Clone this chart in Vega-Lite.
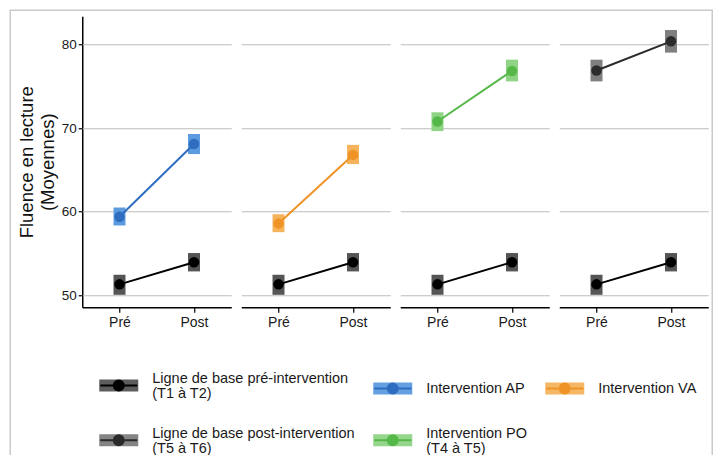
{
  "$schema": "https://vega.github.io/schema/vega-lite/v6.json",
  "background": "white",
  "padding": {"left": 10.25, "top": 10.25, "right": 5, "bottom": 5},
  "data": {
    "values": [
      {"panel": 1, "series": "Ligne de base pré-intervention (T1 à T2)", "time": "Pré", "mean": 51.3, "lo": 50.05, "hi": 52.45},
      {"panel": 1, "series": "Ligne de base pré-intervention (T1 à T2)", "time": "Post", "mean": 53.95, "lo": 52.85, "hi": 55.05},
      {"panel": 1, "series": "Intervention AP", "time": "Pré", "mean": 59.4, "lo": 58.35, "hi": 60.5},
      {"panel": 1, "series": "Intervention AP", "time": "Post", "mean": 68.1, "lo": 66.9, "hi": 69.3},
      {"panel": 2, "series": "Ligne de base pré-intervention (T1 à T2)", "time": "Pré", "mean": 51.3, "lo": 50.05, "hi": 52.45},
      {"panel": 2, "series": "Ligne de base pré-intervention (T1 à T2)", "time": "Post", "mean": 53.95, "lo": 52.85, "hi": 55.05},
      {"panel": 2, "series": "Intervention VA", "time": "Pré", "mean": 58.6, "lo": 57.55, "hi": 59.7},
      {"panel": 2, "series": "Intervention VA", "time": "Post", "mean": 66.8, "lo": 65.7, "hi": 68.0},
      {"panel": 3, "series": "Ligne de base pré-intervention (T1 à T2)", "time": "Pré", "mean": 51.3, "lo": 50.05, "hi": 52.45},
      {"panel": 3, "series": "Ligne de base pré-intervention (T1 à T2)", "time": "Post", "mean": 53.95, "lo": 52.85, "hi": 55.05},
      {"panel": 3, "series": "Intervention PO (T4 à T5)", "time": "Pré", "mean": 70.8, "lo": 69.65, "hi": 71.9},
      {"panel": 3, "series": "Intervention PO (T4 à T5)", "time": "Post", "mean": 76.85, "lo": 75.6, "hi": 78.2},
      {"panel": 4, "series": "Ligne de base pré-intervention (T1 à T2)", "time": "Pré", "mean": 51.3, "lo": 50.05, "hi": 52.45},
      {"panel": 4, "series": "Ligne de base pré-intervention (T1 à T2)", "time": "Post", "mean": 53.95, "lo": 52.85, "hi": 55.05},
      {"panel": 4, "series": "Ligne de base post-intervention (T5 à T6)", "time": "Pré", "mean": 76.9, "lo": 75.6, "hi": 78.2},
      {"panel": 4, "series": "Ligne de base post-intervention (T5 à T6)", "time": "Post", "mean": 80.4, "lo": 79.05, "hi": 81.75}
    ]
  },
  "facet": {"column": {"field": "panel", "type": "ordinal", "header": null}},
  "spacing": 10,
  "spec": {
    "width": 149,
    "height": 291,
    "encoding": {
      "x": {
        "field": "time", "type": "nominal", "sort": ["Pré", "Post"],
        "scale": {"type": "point", "padding": 0.5},
        "axis": {
          "title": null, "labelAngle": 0, "labelFontSize": 14, "labelColor": "#1a1a1a",
          "domainColor": "#000000", "domainWidth": 1.5, "tickColor": "#000000", "tickSize": 5,
          "tickWidth": 1.2, "labelPadding": 3, "grid": false
        }
      }
    },
    "layer": [
      {
        "mark": {"type": "rule", "strokeWidth": 12, "strokeCap": "butt"},
        "encoding": {
          "y": {
            "field": "lo", "type": "quantitative",
            "scale": {"domain": [48.56, 83.4], "nice": false, "zero": false},
            "axis": {
              "title": ["Fluence en lecture", "(Moyennes)"], "values": [50, 60, 70, 80],
              "grid": true, "gridColor": "#bdbdbd", "gridWidth": 1.2,
              "domainColor": "#000000", "domainWidth": 1.5, "tickColor": "#000000", "tickSize": 4, "tickWidth": 1.2,
              "labelFontSize": 13.5, "labelColor": "#1a1a1a", "labelPadding": 2,
              "titleFontSize": 18.5, "titleFontWeight": "normal", "titleColor": "#111111",
              "titlePadding": 4, "titleLineHeight": 21
            }
          },
          "y2": {"field": "hi"},
          "stroke": {
            "field": "series", "type": "nominal",
            "scale": {
              "domain": ["Ligne de base pré-intervention (T1 à T2)", "Ligne de base post-intervention (T5 à T6)", "Intervention AP", "Intervention PO (T4 à T5)", "Intervention VA"],
              "range": ["#555555", "#7f7f7f", "#5d9be0", "#8fd485", "#f5b45c"]
            },
            "legend": {
              "orient": "none", "legendX": 17, "legendY": 349.5, "title": null, "columns": 3,
              "columnPadding": 15, "rowPadding": 20, "padding": 0,
              "symbolType": "M-1,-0.27L1,-0.27L1,0.27L-1,0.27Z", "symbolSize": 1369, "symbolStrokeWidth": 2,
              "labelOffset": 14, "labelFontSize": 14.5, "labelColor": "#1a1a1a", "labelLimit": 400,
              "labelExpr": "split(replace(datum.label, ' (', '|('), '|')",
              "encode": {
                "symbols": {"update": {"fill": {"scale": "stroke", "field": "value"}, "stroke": {"value": "transparent"}, "opacity": {"value": 0.95}}},
                "labels": {"update": {"lineHeight": {"value": 15}, "dy": {"signal": "indexof(datum.value, ' (') >= 0 ? -6.5 : 0"}}}
              }
            }
          }
        }
      },
      {
        "mark": {"type": "line", "strokeWidth": 2},
        "encoding": {
          "y": {"field": "mean", "type": "quantitative"},
          "color": {
            "field": "series", "type": "nominal",
            "sort": ["Ligne de base pré-intervention (T1 à T2)", "Ligne de base post-intervention (T5 à T6)", "Intervention AP", "Intervention PO (T4 à T5)", "Intervention VA"],
            "scale": {"range": ["#000000", "#2b2b2b", "#2e6dbf", "#55b848", "#ef9327"]},
            "legend": {
              "orient": "none", "legendX": 17, "legendY": 349.5, "title": null, "columns": 3,
              "columnPadding": 15, "rowPadding": 20, "padding": 0,
              "symbolType": "M-1,0L1,0M0.27,0A0.27,0.27,0,1,1,-0.27,0A0.27,0.27,0,1,1,0.27,0", "symbolSize": 1369, "symbolStrokeWidth": 2,
              "labelOffset": 14, "labelFontSize": 14.5, "labelColor": "rgba(0,0,0,0)", "labelLimit": 400,
              "labelExpr": "split(replace(datum.label, ' (', '|('), '|')",
              "encode": {
                "symbols": {"update": {"fill": {"scale": "color", "field": "value"}, "stroke": {"scale": "color", "field": "value"}, "opacity": {"value": 1}}},
                "labels": {"update": {"lineHeight": {"value": 15}, "dy": {"signal": "indexof(datum.value, ' (') >= 0 ? -6.5 : 0"}}}
              }
            }
          }
        }
      },
      {
        "mark": {"type": "point", "filled": true, "size": 110, "opacity": 1},
        "encoding": {
          "y": {"field": "mean", "type": "quantitative"},
          "color": {
            "field": "series", "type": "nominal",
            "sort": ["Ligne de base pré-intervention (T1 à T2)", "Ligne de base post-intervention (T5 à T6)", "Intervention AP", "Intervention PO (T4 à T5)", "Intervention VA"],
            "scale": {"range": ["#000000", "#2b2b2b", "#2e6dbf", "#55b848", "#ef9327"]},
            "legend": {
              "orient": "none", "legendX": 17, "legendY": 349.5, "title": null, "columns": 3,
              "columnPadding": 15, "rowPadding": 20, "padding": 0,
              "symbolType": "M-1,0L1,0M0.27,0A0.27,0.27,0,1,1,-0.27,0A0.27,0.27,0,1,1,0.27,0", "symbolSize": 1369, "symbolStrokeWidth": 2,
              "labelOffset": 14, "labelFontSize": 14.5, "labelColor": "rgba(0,0,0,0)", "labelLimit": 400,
              "labelExpr": "split(replace(datum.label, ' (', '|('), '|')",
              "encode": {
                "symbols": {"update": {"fill": {"scale": "color", "field": "value"}, "stroke": {"scale": "color", "field": "value"}, "opacity": {"value": 1}}},
                "labels": {"update": {"lineHeight": {"value": 15}, "dy": {"signal": "indexof(datum.value, ' (') >= 0 ? -6.5 : 0"}}}
              }
            }
          }
        }
      },
      {
        "mark": {"type": "point", "filled": true, "size": 0},
        "encoding": {
          "y": {"field": "mean", "type": "quantitative"},
          "fill": {
            "field": "mean", "type": "quantitative",
            "scale": {"range": ["rgba(255,255,255,0)", "rgba(255,255,255,0)"]},
            "legend": {
              "orient": "none", "legendX": -72, "legendY": -6, "title": null, "direction": "horizontal",
              "gradientLength": 702, "gradientThickness": 480, "gradientStrokeColor": "#b5b5b5",
              "gradientStrokeWidth": 1.5, "labelExpr": "''", "labelOpacity": 0, "padding": 0
            }
          }
        }
      }
    ]
  },
  "config": {
    "font": "Liberation Sans",
    "view": {"stroke": null}
  }
}
